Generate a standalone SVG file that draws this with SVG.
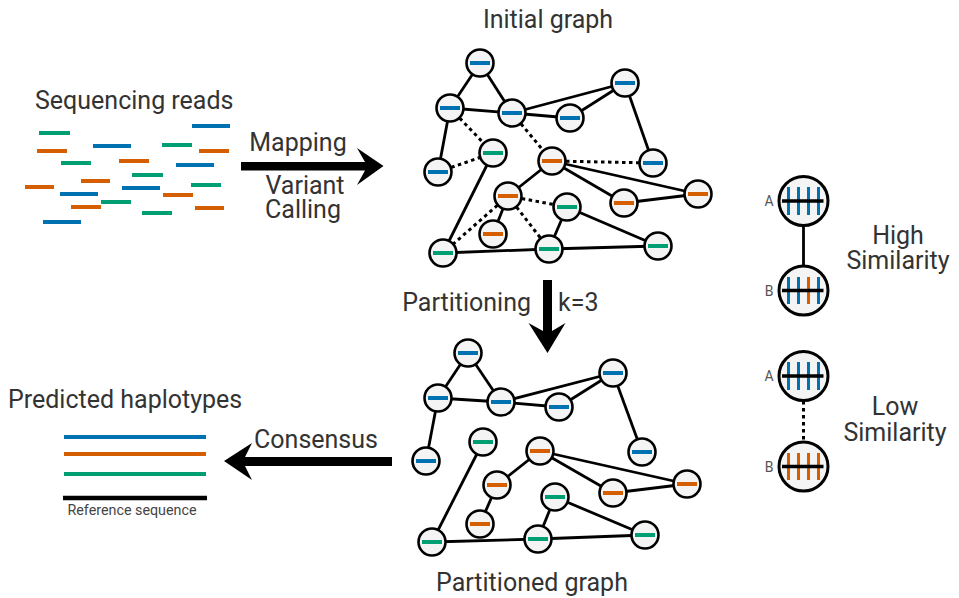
<svg xmlns="http://www.w3.org/2000/svg" width="959" height="598" viewBox="0 0 959 598">
<defs>
<style>
.t{font-family:Roboto,"Liberation Sans",sans-serif;fill:#333;font-size:25px}
.ts{font-family:Roboto,"Liberation Sans",sans-serif;fill:#444;font-size:14.3px}
.tl{font-family:Roboto,"Liberation Sans",sans-serif;fill:#555;font-size:14px}
.n{fill:#f4f4f4;stroke:#000;stroke-width:2.6}
.b{fill:#0072B2}.o{fill:#D55E00}.g{fill:#009E73}
.e{stroke:#000;stroke-width:2.8;fill:none}
.d{stroke:#000;stroke-width:3;fill:none;stroke-dasharray:3.5 3.5}
.rb{stroke:#0072B2;stroke-width:4}.ro{stroke:#D55E00;stroke-width:4}.rg{stroke:#009E73;stroke-width:4}
.arrow{fill:#000}
.ln{fill:#f4f4f4;stroke:#000;stroke-width:3}
.tk{stroke-width:3}
</style>
<symbol id="nd" overflow="visible"><circle class="n" cx="0" cy="0" r="13.5"/></symbol>
</defs>
<rect width="959" height="598" fill="#fff"/>

<!-- Sequencing reads -->
<g id="reads">
<text class="t" x="35" y="109">Sequencing reads</text>
<line class="rg" x1="39" y1="133" x2="70" y2="133"/>
<line class="rb" x1="192" y1="126" x2="230" y2="126"/>
<line class="rb" x1="93" y1="146" x2="131" y2="146"/>
<line class="ro" x1="37" y1="151" x2="67" y2="151"/>
<line class="rg" x1="162" y1="145" x2="192" y2="145"/>
<line class="ro" x1="199" y1="151" x2="229" y2="151"/>
<line class="rg" x1="61" y1="163" x2="91" y2="163"/>
<line class="ro" x1="119" y1="161" x2="149" y2="161"/>
<line class="rb" x1="176" y1="165" x2="214" y2="165"/>
<line class="rg" x1="132" y1="175" x2="163" y2="175"/>
<line class="ro" x1="81" y1="181" x2="110" y2="181"/>
<line class="ro" x1="25" y1="187" x2="54" y2="187"/>
<line class="rb" x1="122" y1="188" x2="160" y2="188"/>
<line class="rg" x1="191" y1="185" x2="221" y2="185"/>
<line class="rb" x1="60" y1="194" x2="98" y2="194"/>
<line class="ro" x1="163" y1="195" x2="193" y2="195"/>
<line class="rg" x1="101" y1="202" x2="131" y2="202"/>
<line class="ro" x1="71" y1="207" x2="101" y2="207"/>
<line class="rg" x1="142" y1="213" x2="172" y2="213"/>
<line class="ro" x1="195" y1="208" x2="224" y2="208"/>
<line class="rb" x1="43" y1="222" x2="81" y2="222"/>
</g>

<!-- Big arrows and labels -->
<g id="mapping">
<path class="arrow" d="M241,162 H365 L357,148 L383.5,166 L357,185 L365,170.5 H241 Z"/>
<text class="t" x="298" y="151" text-anchor="middle">Mapping</text>
<text class="t" x="305" y="194" text-anchor="middle">Variant</text>
<text class="t" x="303" y="218" text-anchor="middle">Calling</text>
</g>
<g id="partitioning">
<path class="arrow" d="M543,280 H552 V331 L565.5,323 L547.5,353 L528.5,323 L543,331 Z"/>
<text class="t" x="531" y="311" text-anchor="end">Partitioning</text>
<text class="t" x="558" y="311">k=3</text>
</g>
<g id="consensus">
<path class="arrow" d="M392,457 H245 L252,443 L224,461 L252,480 L245,466 H392 Z"/>
<text class="t" x="316" y="448" text-anchor="middle">Consensus</text>
</g>
<text class="t" x="548" y="28" text-anchor="middle">Initial graph</text>
<text class="t" x="532" y="591" text-anchor="middle">Partitioned graph</text>

<!-- Predicted haplotypes -->
<g id="haplotypes">
<text class="t" x="8" y="408">Predicted haplotypes</text>
<line class="rb" x1="64" y1="437" x2="206" y2="437"/>
<line class="ro" x1="64" y1="454" x2="206" y2="454"/>
<line class="rg" x1="64" y1="474" x2="206" y2="474"/>
<line stroke="#000" stroke-width="4.5" x1="63" y1="498" x2="207" y2="498"/>
<text class="ts" x="132" y="515" text-anchor="middle">Reference sequence</text>
</g>

<!-- Initial graph connectors -->
<g id="connectors-initial">
<line class="e" x1="480" y1="63" x2="450" y2="108"/>
<line class="e" x1="480" y1="63" x2="512" y2="113"/>
<line class="e" x1="450" y1="108" x2="512" y2="113"/>
<line class="e" x1="512" y1="113" x2="570" y2="118"/>
<line class="e" x1="512" y1="113" x2="625" y2="83"/>
<line class="e" x1="570" y1="118" x2="625" y2="83"/>
<line class="e" x1="625" y1="83" x2="653" y2="163"/>
<line class="e" x1="450" y1="108" x2="438" y2="172"/>
<line class="e" x1="493" y1="153" x2="443" y2="253"/>
<line class="e" x1="552" y1="161" x2="508" y2="196"/>
<line class="e" x1="552" y1="161" x2="624" y2="203"/>
<line class="e" x1="552" y1="161" x2="698" y2="194"/>
<line class="e" x1="624" y1="203" x2="698" y2="194"/>
<line class="e" x1="508" y1="196" x2="493" y2="234"/>
<line class="e" x1="567" y1="207" x2="549" y2="249"/>
<line class="e" x1="567" y1="207" x2="658" y2="246"/>
<line class="e" x1="443" y1="253" x2="549" y2="249"/>
<line class="e" x1="549" y1="249" x2="658" y2="246"/>
<line class="d" x1="450" y1="108" x2="493" y2="153"/>
<line class="d" x1="438" y1="172" x2="493" y2="153"/>
<line class="d" x1="512" y1="113" x2="552" y2="161"/>
<line class="d" x1="552" y1="161" x2="653" y2="163"/>
<line class="d" x1="508" y1="196" x2="567" y2="207"/>
<line class="d" x1="508" y1="196" x2="443" y2="253"/>
<line class="d" x1="508" y1="196" x2="549" y2="249"/>
</g>

<!-- Initial graph nodes -->
<g id="i1"><use href="#nd" x="480" y="63"/><rect class="b" x="470" y="61" width="20" height="4"/></g>
<g id="i2"><use href="#nd" x="450" y="108"/><rect class="b" x="440" y="106" width="20" height="4"/></g>
<g id="i3"><use href="#nd" x="512" y="113"/><rect class="b" x="502" y="111" width="20" height="4"/></g>
<g id="i4"><use href="#nd" x="570" y="118"/><rect class="b" x="560" y="116" width="20" height="4"/></g>
<g id="i5"><use href="#nd" x="625" y="83"/><rect class="b" x="615" y="81" width="20" height="4"/></g>
<g id="i6"><use href="#nd" x="438" y="172"/><rect class="b" x="428" y="170" width="20" height="4"/></g>
<g id="i7"><use href="#nd" x="493" y="153"/><rect class="g" x="483" y="151" width="20" height="4"/></g>
<g id="i8"><use href="#nd" x="552" y="161"/><rect class="o" x="542" y="159" width="20" height="4"/></g>
<g id="i9"><use href="#nd" x="653" y="163"/><rect class="b" x="643" y="161" width="20" height="4"/></g>
<g id="i10"><use href="#nd" x="508" y="196"/><rect class="o" x="498" y="194" width="20" height="4"/></g>
<g id="i11"><use href="#nd" x="567" y="207"/><rect class="g" x="557" y="205" width="20" height="4"/></g>
<g id="i12"><use href="#nd" x="624" y="203"/><rect class="o" x="614" y="201" width="20" height="4"/></g>
<g id="i13"><use href="#nd" x="698" y="194"/><rect class="o" x="688" y="192" width="20" height="4"/></g>
<g id="i14"><use href="#nd" x="493" y="234"/><rect class="o" x="483" y="232" width="20" height="4"/></g>
<g id="i15"><use href="#nd" x="443" y="253"/><rect class="g" x="433" y="251" width="20" height="4"/></g>
<g id="i16"><use href="#nd" x="549" y="249"/><rect class="g" x="539" y="247" width="20" height="4"/></g>
<g id="i17"><use href="#nd" x="658" y="246"/><rect class="g" x="648" y="244" width="20" height="4"/></g>

<!-- Partitioned graph connectors -->
<g id="connectors-partitioned">
<line class="e" x1="468" y1="353" x2="438" y2="398"/>
<line class="e" x1="468" y1="353" x2="501" y2="402"/>
<line class="e" x1="438" y1="398" x2="501" y2="402"/>
<line class="e" x1="501" y1="402" x2="559" y2="407"/>
<line class="e" x1="501" y1="402" x2="613" y2="373"/>
<line class="e" x1="559" y1="407" x2="613" y2="373"/>
<line class="e" x1="613" y1="373" x2="642" y2="452"/>
<line class="e" x1="438" y1="398" x2="426" y2="461"/>
<line class="e" x1="483" y1="442" x2="432" y2="542"/>
<line class="e" x1="540" y1="451" x2="497" y2="485"/>
<line class="e" x1="540" y1="451" x2="613" y2="493"/>
<line class="e" x1="540" y1="451" x2="687" y2="484"/>
<line class="e" x1="613" y1="493" x2="687" y2="484"/>
<line class="e" x1="497" y1="485" x2="480" y2="524"/>
<line class="e" x1="555" y1="497" x2="538" y2="539"/>
<line class="e" x1="555" y1="497" x2="645" y2="535"/>
<line class="e" x1="432" y1="542" x2="538" y2="539"/>
<line class="e" x1="538" y1="539" x2="645" y2="535"/>
</g>

<!-- Partitioned graph nodes -->
<g id="p1"><use href="#nd" x="468" y="353"/><rect class="b" x="458" y="351" width="20" height="4"/></g>
<g id="p2"><use href="#nd" x="438" y="398"/><rect class="b" x="428" y="396" width="20" height="4"/></g>
<g id="p3"><use href="#nd" x="501" y="402"/><rect class="b" x="491" y="400" width="20" height="4"/></g>
<g id="p4"><use href="#nd" x="559" y="407"/><rect class="b" x="549" y="405" width="20" height="4"/></g>
<g id="p5"><use href="#nd" x="613" y="373"/><rect class="b" x="603" y="371" width="20" height="4"/></g>
<g id="p6"><use href="#nd" x="426" y="461"/><rect class="b" x="416" y="459" width="20" height="4"/></g>
<g id="p7"><use href="#nd" x="483" y="442"/><rect class="g" x="473" y="440" width="20" height="4"/></g>
<g id="p8"><use href="#nd" x="540" y="451"/><rect class="o" x="530" y="449" width="20" height="4"/></g>
<g id="p9"><use href="#nd" x="642" y="452"/><rect class="b" x="632" y="450" width="20" height="4"/></g>
<g id="p10"><use href="#nd" x="497" y="485"/><rect class="o" x="487" y="483" width="20" height="4"/></g>
<g id="p11"><use href="#nd" x="555" y="497"/><rect class="g" x="545" y="495" width="20" height="4"/></g>
<g id="p12"><use href="#nd" x="613" y="493"/><rect class="o" x="603" y="491" width="20" height="4"/></g>
<g id="p13"><use href="#nd" x="687" y="484"/><rect class="o" x="677" y="482" width="20" height="4"/></g>
<g id="p14"><use href="#nd" x="480" y="524"/><rect class="o" x="470" y="522" width="20" height="4"/></g>
<g id="p15"><use href="#nd" x="432" y="542"/><rect class="g" x="422" y="540" width="20" height="4"/></g>
<g id="p16"><use href="#nd" x="538" y="539"/><rect class="g" x="528" y="537" width="20" height="4"/></g>
<g id="p17"><use href="#nd" x="645" y="535"/><rect class="g" x="635" y="533" width="20" height="4"/></g>

<!-- Legend -->
<g id="legend-connectors">
<line class="e" x1="803.5" y1="226" x2="803.5" y2="266"/>
<line class="d" x1="803.5" y1="401" x2="803.5" y2="442"/>
</g>
<g id="legendHighA">
<circle class="ln" cx="803.5" cy="201" r="24.5"/>
<g class="tk" stroke="#0072B2"><line x1="788.5" y1="187" x2="788.5" y2="215"/><line x1="798.5" y1="187" x2="798.5" y2="215"/><line x1="808.5" y1="187" x2="808.5" y2="215"/><line x1="818.5" y1="187" x2="818.5" y2="215"/></g>
<line stroke="#000" stroke-width="3.5" x1="782" y1="201" x2="823.5" y2="201"/>
<text class="tl" x="769" y="206" text-anchor="middle">A</text>
</g>
<g id="legendHighB">
<circle class="ln" cx="803.5" cy="290.5" r="24.5"/>
<g class="tk"><line stroke="#0072B2" x1="788.5" y1="277" x2="788.5" y2="304"/><line stroke="#0072B2" x1="798.5" y1="277" x2="798.5" y2="304"/><line stroke="#D55E00" x1="808.5" y1="277" x2="808.5" y2="304"/><line stroke="#0072B2" x1="818.5" y1="277" x2="818.5" y2="304"/></g>
<line stroke="#000" stroke-width="3.5" x1="782" y1="290.5" x2="823.5" y2="290.5"/>
<text class="tl" x="769" y="295.5" text-anchor="middle">B</text>
</g>
<text class="t" x="898" y="244" text-anchor="middle">High</text>
<text class="t" x="898" y="269" text-anchor="middle">Similarity</text>

<g id="legendLowA">
<circle class="ln" cx="803.5" cy="376" r="24.5"/>
<g class="tk" stroke="#0072B2"><line x1="788.5" y1="362" x2="788.5" y2="390"/><line x1="798.5" y1="362" x2="798.5" y2="390"/><line x1="808.5" y1="362" x2="808.5" y2="390"/><line x1="818.5" y1="362" x2="818.5" y2="390"/></g>
<line stroke="#000" stroke-width="3.5" x1="782" y1="376" x2="823.5" y2="376"/>
<text class="tl" x="769" y="381" text-anchor="middle">A</text>
</g>
<g id="legendLowB">
<circle class="ln" cx="803.5" cy="466.5" r="24.5"/>
<g class="tk" stroke="#D55E00"><line x1="788.5" y1="453" x2="788.5" y2="480"/><line x1="798.5" y1="453" x2="798.5" y2="480"/><line x1="808.5" y1="453" x2="808.5" y2="480"/><line x1="818.5" y1="453" x2="818.5" y2="480"/></g>
<line stroke="#000" stroke-width="3.5" x1="782" y1="466.5" x2="823.5" y2="466.5"/>
<text class="tl" x="769" y="471.5" text-anchor="middle">B</text>
</g>
<text class="t" x="895" y="415" text-anchor="middle">Low</text>
<text class="t" x="895" y="441" text-anchor="middle">Similarity</text>
</svg>
